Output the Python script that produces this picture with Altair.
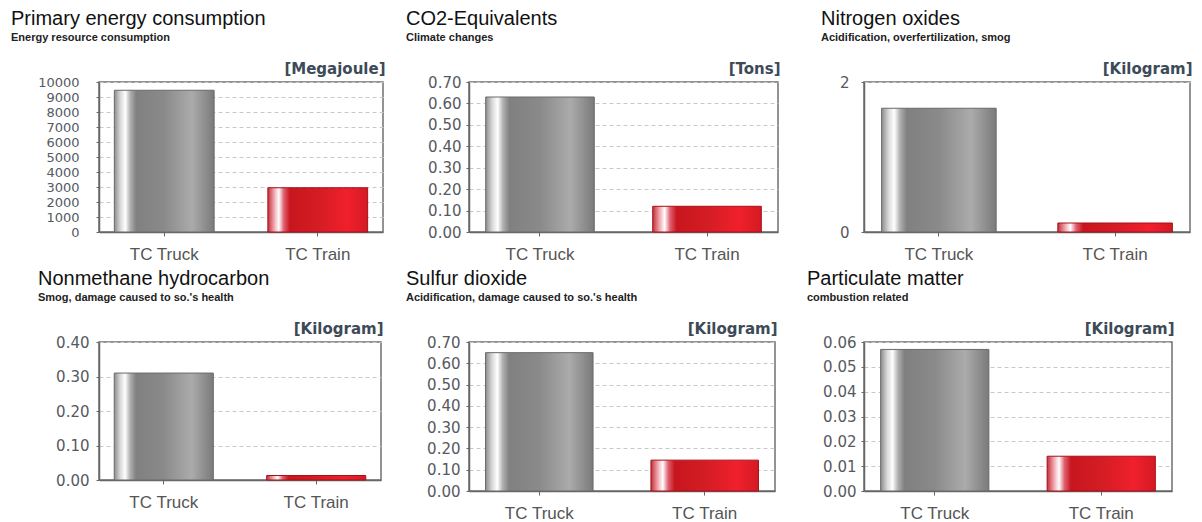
import altair as alt
import pandas as pd

categories = ["TC Truck", "TC Train"]

titles = ["Primary energy consumption", "CO2-Equivalents", "Nitrogen oxides",
          "Nonmethane hydrocarbon", "Sulfur dioxide", "Particulate matter"]
subtitles = ["Energy resource consumption", "Climate changes",
             "Acidification, overfertilization, smog",
             "Smog, damage caused to so.'s health",
             "Acidification, damage caused to so.'s health",
             "combustion related"]
units = ["[Megajoule]", "[Tons]", "[Kilogram]", "[Kilogram]", "[Kilogram]", "[Kilogram]"]

primary_energy = [9450, 2950]
co2_equivalents = [0.63, 0.12]
nitrogen_oxides = [1.65, 0.12]
nonmethane_hc = [0.31, 0.013]
sulfur_dioxide = [0.65, 0.145]
particulate = [0.057, 0.014]
series = [primary_energy, co2_equivalents, nitrogen_oxides,
          nonmethane_hc, sulfur_dioxide, particulate]

y_ticks = [
    [0, 1000, 2000, 3000, 4000, 5000, 6000, 7000, 8000, 9000, 10000],
    [0, 0.1, 0.2, 0.3, 0.4, 0.5, 0.6, 0.7],
    [0, 1, 2],
    [0, 0.1, 0.2, 0.3, 0.4],
    [0, 0.1, 0.2, 0.3, 0.4, 0.5, 0.6, 0.7],
    [0, 0.01, 0.02, 0.03, 0.04, 0.05, 0.06],
]
y_formats = ["d", ".2f", "d", ".2f", ".2f", ".2f"]

# layout / style (not data)
widths = [284, 309, 326, 282, 306, 308]
heights = [150, 150, 150, 138, 149, 149]
title_dx = [-88, -63, -43, -61, -63, -57]
label_pad = [17, 5, 12, 7, 6, 5]
label_size = [13, 15, 15, 15, 15, 15]

gray_grad = alt.Gradient(
    gradient="linear", x1=0, x2=1, y1=0, y2=0,
    stops=[
        alt.GradientStop(offset=0.0, color="#8c8c8c"),
        alt.GradientStop(offset=0.06, color="#d8d8d8"),
        alt.GradientStop(offset=0.11, color="#ffffff"),
        alt.GradientStop(offset=0.16, color="#b0b0b0"),
        alt.GradientStop(offset=0.22, color="#808080"),
        alt.GradientStop(offset=0.5, color="#8a8a8a"),
        alt.GradientStop(offset=0.78, color="#ababab"),
        alt.GradientStop(offset=1.0, color="#7a7a7a"),
    ],
)
red_grad = alt.Gradient(
    gradient="linear", x1=0, x2=1, y1=0, y2=0,
    stops=[
        alt.GradientStop(offset=0.0, color="#c0303a"),
        alt.GradientStop(offset=0.06, color="#f0a0a8"),
        alt.GradientStop(offset=0.11, color="#ffffff"),
        alt.GradientStop(offset=0.16, color="#e06070"),
        alt.GradientStop(offset=0.22, color="#c8161e"),
        alt.GradientStop(offset=0.5, color="#d41c24"),
        alt.GradientStop(offset=0.8, color="#f0202c"),
        alt.GradientStop(offset=1.0, color="#d41a24"),
    ],
)


def panel(i):
    df = pd.DataFrame({"mode": categories, "value": series[i]})
    w, h = widths[i], heights[i]
    base = alt.Chart(df).encode(
        x=alt.X(
            "mode:N", sort=categories,
            scale=alt.Scale(domain=categories, paddingInner=0.35, paddingOuter=0.1),
            axis=alt.Axis(title=None, labelAngle=0, grid=False, tickSize=4,
                          labelPadding=10, labelFont="Liberation Sans",
                          labelFontSize=17, labelColor="#555555"),
        ),
        y=alt.Y(
            "value:Q",
            scale=alt.Scale(domain=[y_ticks[i][0], y_ticks[i][-1]], nice=False, zero=True),
            axis=alt.Axis(
                values=y_ticks[i], format=y_formats[i], labelOverlap=False,
                tickSize=3, labelPadding=label_pad[i],
                labelFont="DejaVu Sans", labelFontSize=label_size[i],
                labelColor="#555a60",
                grid=True, gridDash=[4, 3], gridColor="#c8c8c8", gridWidth=1,
                title=units[i], titleAngle=0, titleX=w + 2, titleY=-9,
                titleAlign="right", titleBaseline="alphabetic",
                titleFont="DejaVu Sans", titleFontSize=15, titleFontWeight="bold",
                titleColor="#3d4a58",
            ),
        ),
    )
    truck = base.transform_filter(alt.datum.mode == categories[0]).mark_bar(
        fill=gray_grad, stroke="#6a6a6a", strokeWidth=1)
    train = base.transform_filter(alt.datum.mode == categories[1]).mark_bar(
        fill=red_grad, stroke="#a8101a", strokeWidth=1)
    return alt.layer(truck, train).properties(
        width=w, height=h,
        title=alt.TitleParams(
            text=titles[i], subtitle=subtitles[i], anchor="start", frame="group",
            dx=title_dx[i], offset=18,
            font="Liberation Sans", fontSize=20, fontWeight="normal", color="#111111",
            subtitleFont="Liberation Sans", subtitleFontSize=11,
            subtitleFontWeight="bold", subtitleColor="#222222", subtitlePadding=3,
        ),
    )


chart = alt.concat(
    *[panel(i) for i in range(6)], columns=3,
    spacing={"row": 110, "column": 86}, align="none", bounds="flush",
).properties(
    padding={"left": 2, "top": 0, "right": 0, "bottom": 0},
    background="white",
).configure_view(
    stroke="#707070", strokeWidth=1.5,
).configure_axis(
    domainColor="#666666", domainWidth=1.5, tickColor="#666666", tickWidth=1,
)

chart.save("out.html", embed_options={"renderer": "svg", "actions": False})
